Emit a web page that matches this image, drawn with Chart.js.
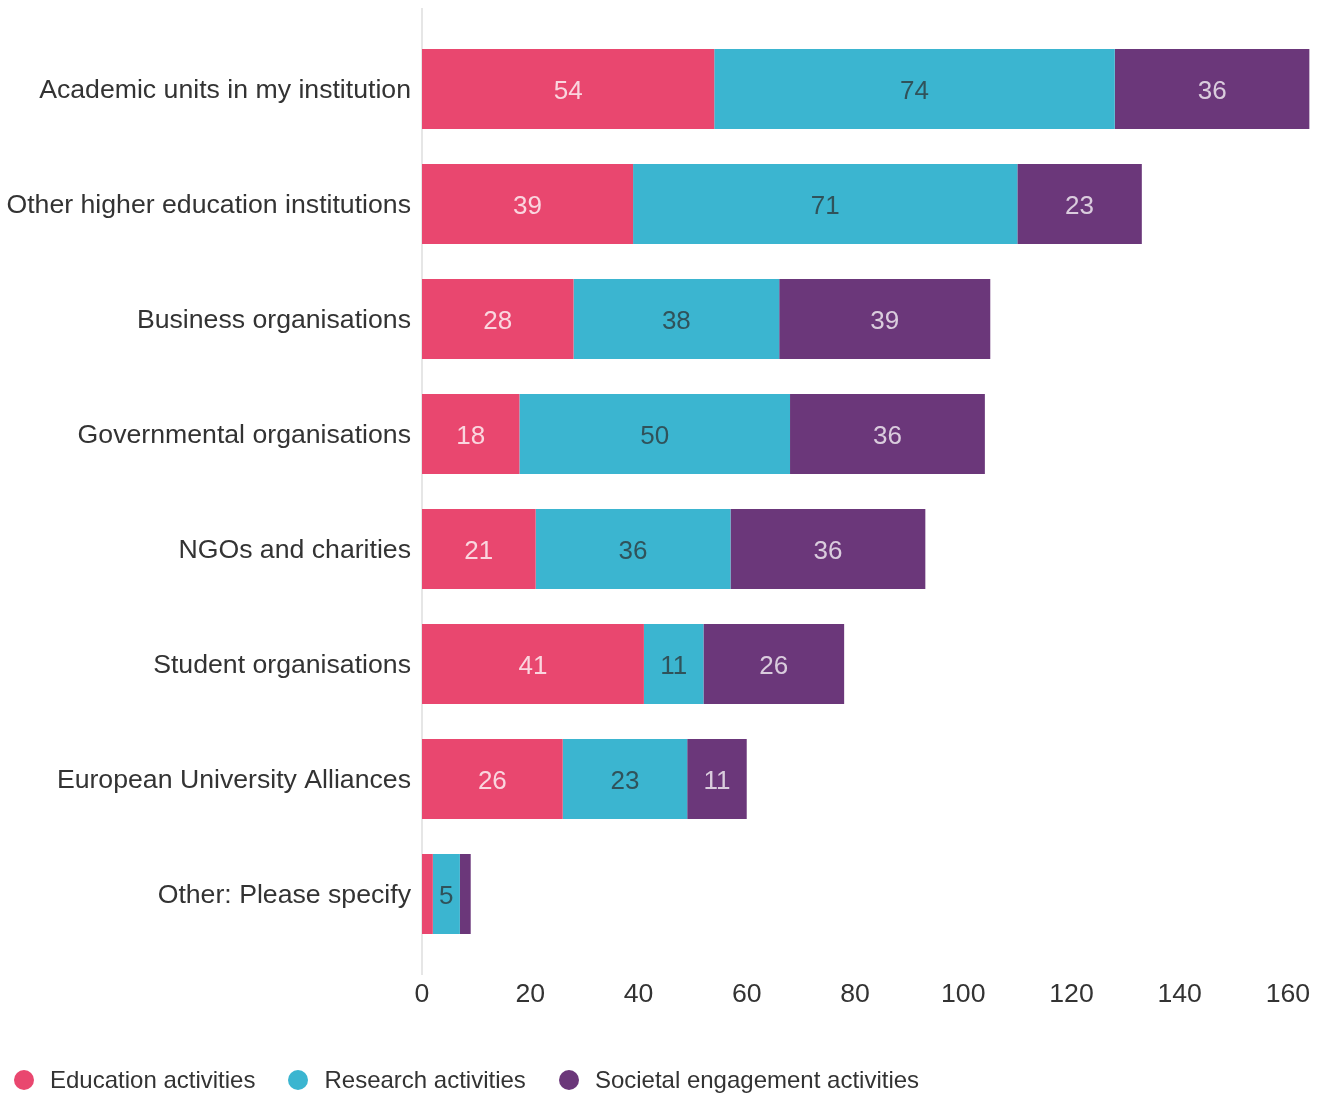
<!DOCTYPE html>
<html>
<head>
<meta charset="utf-8">
<script src="https://cdn.jsdelivr.net/npm/chart.js@4/dist/chart.umd.min.js"></script>
<style>
  html, body { margin: 0; padding: 0; background: #ffffff; }
  body { width: 1323px; height: 1093px; position: relative; overflow: hidden;
         font-family: "Liberation Sans", Arial, sans-serif; }
  #wrap { position: absolute; left: 0; top: 0; width: 1323px; height: 1093px; }
  #legend { position: absolute; left: 14px; top: 1064px; height: 32px; display: flex;
            align-items: center; font-size: 24px; color: #333333; }
  .item { display: flex; align-items: center; margin-right: 33px; }
  .dot { width: 20px; height: 20px; border-radius: 50%; margin-right: 16px; }
</style>
</head>
<body>
<div id="wrap"><canvas id="chart" width="1323" height="1093"></canvas></div>
<div id="legend"></div>
<script>
// Partner categories (top to bottom)
const categories = [
  "Academic units in my institution",
  "Other higher education institutions",
  "Business organisations",
  "Governmental organisations",
  "NGOs and charities",
  "Student organisations",
  "European University Alliances",
  "Other: Please specify"
];

// Number of responses per activity type
const educationValues = [54, 39, 28, 18, 21, 41, 26, 2];
const researchValues  = [74, 71, 38, 50, 36, 11, 23, 5];
const societalValues  = [36, 23, 39, 36, 36, 26, 11, 2];

const seriesNames = ["Education activities", "Research activities", "Societal engagement activities"];
const seriesColors = ["#e9476f", "#3bb5d0", "#6b377a"];
const labelColors = ["rgba(255,255,255,0.78)", "rgba(45,45,45,0.72)", "rgba(255,255,255,0.75)"];

const xTicks = [0, 20, 40, 60, 80, 100, 120, 140, 160];
const xMax = 164;

const FONT = "'Liberation Sans', Arial, sans-serif";
const FONT_SIZE = 26.67;

// Values written inside each bar segment
const segmentLabels = {
  id: "segmentLabels",
  afterDatasetsDraw(chart) {
    const ctx = chart.ctx;
    ctx.save();
    ctx.font = "26px " + FONT;
    ctx.textAlign = "center";
    ctx.textBaseline = "middle";
    chart.data.datasets.forEach((ds, i) => {
      const meta = chart.getDatasetMeta(i);
      meta.data.forEach((bar, j) => {
        const v = ds.data[j];
        if (v < 3) return;
        const cx = (bar.x + bar.base) / 2;
        ctx.fillStyle = labelColors[i];
        ctx.fillText(String(v), cx, bar.y + 2.5);
      });
    });
    ctx.restore();
  }
};

// Zero line running past the plot area
const zeroLine = {
  id: "zeroLine",
  beforeDatasetsDraw(chart) {
    const x = chart.scales.x.getPixelForValue(0);
    const ctx = chart.ctx;
    ctx.save();
    ctx.strokeStyle = "#e6e6e6";
    ctx.lineWidth = 2;
    ctx.beginPath();
    ctx.moveTo(x, 8);
    ctx.lineTo(x, 975);
    ctx.stroke();
    ctx.restore();
  }
};

const datasets = [educationValues, researchValues, societalValues].map((vals, i) => ({
  label: seriesNames[i],
  data: vals,
  backgroundColor: seriesColors[i],
  borderWidth: 0,
  categoryPercentage: 1,
  barPercentage: 0.696
}));

new Chart(document.getElementById("chart"), {
  type: "bar",
  data: { labels: categories, datasets },
  options: {
    indexAxis: "y",
    responsive: false,
    animation: false,
    layout: { padding: { top: 31.5, bottom: 83.3, left: 0, right: 13.4 } },
    plugins: {
      legend: { display: false },
      tooltip: { enabled: false }
    },
    scales: {
      x: {
        stacked: true,
        min: 0,
        max: xMax,
        afterBuildTicks(scale) { scale.ticks = xTicks.map(v => ({ value: v })); },
        grid: { display: false, drawTicks: false },
        border: { display: false },
        ticks: { padding: 27, color: "#333333", font: { family: FONT, size: FONT_SIZE } },
        afterFit(scale) {
          scale.height = 58.2;
          scale.paddingLeft = 0;
          scale.paddingRight = 0;
        }
      },
      y: {
        stacked: true,
        grid: { display: false, drawTicks: false },
        border: { display: false },
        ticks: { padding: 11, labelOffset: 1.5, color: "#333333", font: { family: FONT, size: FONT_SIZE } },
        afterFit(scale) { scale.width = 422; }
      }
    }
  },
  plugins: [zeroLine, segmentLabels]
});

// Legend row
const legend = document.getElementById("legend");
seriesNames.forEach((name, i) => {
  const item = document.createElement("div");
  item.className = "item";
  const dot = document.createElement("span");
  dot.className = "dot";
  dot.style.background = seriesColors[i];
  const txt = document.createElement("span");
  txt.textContent = name;
  item.appendChild(dot);
  item.appendChild(txt);
  legend.appendChild(item);
});
</script>
</body>
</html>
